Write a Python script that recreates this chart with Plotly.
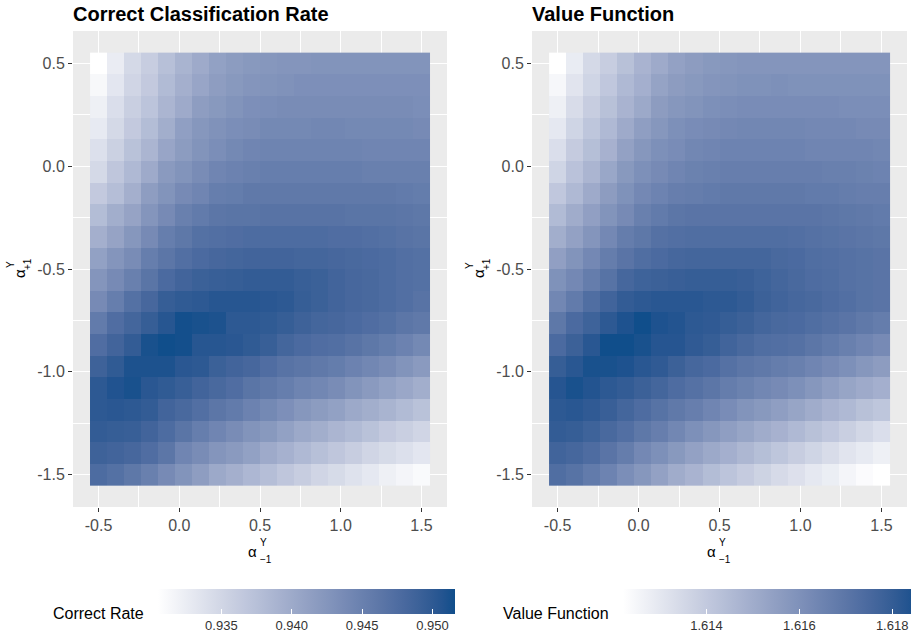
import plotly.graph_objects as go

# ---------------- data ----------------
alpha_minus = [-0.5, -0.3947, -0.2895, -0.1842, -0.0789, 0.0263, 0.1316, 0.2368, 0.3421, 0.4474,
               0.5526, 0.6579, 0.7632, 0.8684, 0.9737, 1.0789, 1.1842, 1.2895, 1.3947, 1.5]
alpha_plus = [0.5, 0.3947, 0.2895, 0.1842, 0.0789, -0.0263, -0.1316, -0.2368, -0.3421, -0.4474,
              -0.5526, -0.6579, -0.7632, -0.8684, -0.9737, -1.0789, -1.1842, -1.2895, -1.3947, -1.5]

# rows: alpha_plus from 0.5 (top) down to -1.5 ; columns: alpha_minus -0.5 .. 1.5
correct_rate = [
    [0.9305, 0.9326, 0.9347, 0.9360, 0.9375, 0.9389, 0.9400, 0.9411, 0.9417, 0.9421, 0.9423, 0.9425, 0.9425, 0.9427, 0.9427, 0.9427, 0.9427, 0.9427, 0.9427, 0.9427],
    [0.9313, 0.9332, 0.9351, 0.9364, 0.9381, 0.9394, 0.9406, 0.9415, 0.9421, 0.9425, 0.9427, 0.9429, 0.9432, 0.9432, 0.9432, 0.9432, 0.9432, 0.9432, 0.9432, 0.9432],
    [0.9322, 0.9341, 0.9358, 0.9370, 0.9387, 0.9400, 0.9415, 0.9421, 0.9427, 0.9432, 0.9434, 0.9436, 0.9436, 0.9436, 0.9436, 0.9436, 0.9436, 0.9436, 0.9436, 0.9434],
    [0.9328, 0.9347, 0.9364, 0.9379, 0.9396, 0.9413, 0.9423, 0.9429, 0.9434, 0.9436, 0.9440, 0.9440, 0.9440, 0.9442, 0.9442, 0.9440, 0.9440, 0.9440, 0.9440, 0.9438],
    [0.9339, 0.9356, 0.9373, 0.9387, 0.9406, 0.9417, 0.9427, 0.9434, 0.9440, 0.9444, 0.9446, 0.9446, 0.9446, 0.9446, 0.9446, 0.9446, 0.9444, 0.9444, 0.9444, 0.9444],
    [0.9347, 0.9368, 0.9383, 0.9400, 0.9419, 0.9427, 0.9436, 0.9444, 0.9448, 0.9451, 0.9453, 0.9453, 0.9453, 0.9453, 0.9453, 0.9453, 0.9451, 0.9451, 0.9451, 0.9451],
    [0.9364, 0.9377, 0.9394, 0.9415, 0.9427, 0.9438, 0.9444, 0.9453, 0.9455, 0.9459, 0.9459, 0.9459, 0.9459, 0.9459, 0.9459, 0.9459, 0.9459, 0.9459, 0.9457, 0.9455],
    [0.9379, 0.9396, 0.9408, 0.9425, 0.9438, 0.9451, 0.9457, 0.9463, 0.9465, 0.9465, 0.9467, 0.9467, 0.9467, 0.9467, 0.9467, 0.9465, 0.9465, 0.9465, 0.9463, 0.9461],
    [0.9394, 0.9408, 0.9423, 0.9438, 0.9453, 0.9461, 0.9470, 0.9472, 0.9474, 0.9476, 0.9476, 0.9476, 0.9476, 0.9476, 0.9474, 0.9474, 0.9472, 0.9470, 0.9467, 0.9465],
    [0.9411, 0.9425, 0.9436, 0.9453, 0.9463, 0.9472, 0.9478, 0.9482, 0.9484, 0.9486, 0.9486, 0.9486, 0.9484, 0.9484, 0.9482, 0.9480, 0.9478, 0.9476, 0.9472, 0.9470],
    [0.9425, 0.9438, 0.9451, 0.9465, 0.9478, 0.9486, 0.9491, 0.9493, 0.9495, 0.9497, 0.9497, 0.9497, 0.9493, 0.9491, 0.9486, 0.9482, 0.9480, 0.9476, 0.9472, 0.9470],
    [0.9438, 0.9453, 0.9470, 0.9482, 0.9495, 0.9499, 0.9501, 0.9505, 0.9505, 0.9505, 0.9503, 0.9501, 0.9495, 0.9491, 0.9486, 0.9482, 0.9480, 0.9476, 0.9472, 0.9467],
    [0.9457, 0.9474, 0.9484, 0.9495, 0.9505, 0.9514, 0.9512, 0.9510, 0.9501, 0.9501, 0.9499, 0.9495, 0.9489, 0.9484, 0.9482, 0.9478, 0.9474, 0.9470, 0.9463, 0.9459],
    [0.9474, 0.9486, 0.9497, 0.9512, 0.9516, 0.9514, 0.9505, 0.9505, 0.9503, 0.9499, 0.9493, 0.9484, 0.9478, 0.9474, 0.9472, 0.9467, 0.9461, 0.9455, 0.9448, 0.9440],
    [0.9489, 0.9499, 0.9510, 0.9510, 0.9510, 0.9503, 0.9501, 0.9491, 0.9486, 0.9482, 0.9474, 0.9467, 0.9463, 0.9459, 0.9455, 0.9448, 0.9442, 0.9436, 0.9427, 0.9419],
    [0.9501, 0.9508, 0.9512, 0.9503, 0.9499, 0.9493, 0.9486, 0.9480, 0.9474, 0.9465, 0.9459, 0.9453, 0.9446, 0.9442, 0.9436, 0.9427, 0.9419, 0.9411, 0.9404, 0.9396],
    [0.9501, 0.9503, 0.9501, 0.9497, 0.9486, 0.9480, 0.9472, 0.9463, 0.9457, 0.9448, 0.9440, 0.9432, 0.9423, 0.9417, 0.9411, 0.9402, 0.9396, 0.9389, 0.9381, 0.9373],
    [0.9497, 0.9495, 0.9493, 0.9486, 0.9476, 0.9465, 0.9453, 0.9444, 0.9436, 0.9427, 0.9421, 0.9411, 0.9402, 0.9396, 0.9387, 0.9381, 0.9373, 0.9364, 0.9358, 0.9351],
    [0.9489, 0.9486, 0.9482, 0.9474, 0.9463, 0.9444, 0.9436, 0.9425, 0.9419, 0.9411, 0.9400, 0.9392, 0.9383, 0.9375, 0.9368, 0.9360, 0.9351, 0.9345, 0.9339, 0.9332],
    [0.9476, 0.9470, 0.9461, 0.9451, 0.9438, 0.9427, 0.9415, 0.9402, 0.9394, 0.9385, 0.9377, 0.9368, 0.9360, 0.9351, 0.9345, 0.9337, 0.9330, 0.9322, 0.9316, 0.9311],
]

value_function = [
    [1.61220, 1.61284, 1.61348, 1.61386, 1.61431, 1.61476, 1.61508, 1.61540, 1.61559, 1.61572, 1.61578, 1.61585, 1.61585, 1.61585, 1.61585, 1.61585, 1.61585, 1.61585, 1.61585, 1.61585],
    [1.61246, 1.61310, 1.61361, 1.61406, 1.61457, 1.61489, 1.61534, 1.61559, 1.61572, 1.61585, 1.61591, 1.61598, 1.61598, 1.61604, 1.61598, 1.61598, 1.61598, 1.61598, 1.61598, 1.61598],
    [1.61271, 1.61335, 1.61386, 1.61431, 1.61476, 1.61514, 1.61559, 1.61578, 1.61591, 1.61604, 1.61610, 1.61617, 1.61617, 1.61617, 1.61617, 1.61617, 1.61617, 1.61610, 1.61610, 1.61610],
    [1.61297, 1.61361, 1.61412, 1.61457, 1.61508, 1.61553, 1.61578, 1.61604, 1.61617, 1.61623, 1.61630, 1.61636, 1.61636, 1.61636, 1.61636, 1.61630, 1.61630, 1.61630, 1.61623, 1.61623],
    [1.61329, 1.61393, 1.61438, 1.61482, 1.61540, 1.61578, 1.61604, 1.61617, 1.61636, 1.61642, 1.61649, 1.61649, 1.61649, 1.61649, 1.61649, 1.61642, 1.61642, 1.61642, 1.61642, 1.61636],
    [1.61361, 1.61425, 1.61470, 1.61521, 1.61572, 1.61604, 1.61623, 1.61642, 1.61655, 1.61662, 1.61668, 1.61668, 1.61668, 1.61668, 1.61668, 1.61668, 1.61662, 1.61662, 1.61655, 1.61649],
    [1.61406, 1.61457, 1.61508, 1.61559, 1.61598, 1.61630, 1.61649, 1.61668, 1.61674, 1.61681, 1.61687, 1.61687, 1.61687, 1.61687, 1.61687, 1.61681, 1.61681, 1.61674, 1.61668, 1.61668],
    [1.61450, 1.61502, 1.61546, 1.61591, 1.61623, 1.61662, 1.61681, 1.61700, 1.61706, 1.61706, 1.61706, 1.61706, 1.61706, 1.61706, 1.61706, 1.61706, 1.61700, 1.61694, 1.61687, 1.61681],
    [1.61495, 1.61540, 1.61585, 1.61630, 1.61674, 1.61694, 1.61719, 1.61726, 1.61732, 1.61732, 1.61732, 1.61732, 1.61732, 1.61732, 1.61726, 1.61719, 1.61713, 1.61706, 1.61700, 1.61694],
    [1.61546, 1.61591, 1.61630, 1.61674, 1.61706, 1.61732, 1.61745, 1.61758, 1.61764, 1.61764, 1.61764, 1.61764, 1.61764, 1.61751, 1.61745, 1.61732, 1.61726, 1.61719, 1.61713, 1.61706],
    [1.61598, 1.61630, 1.61674, 1.61713, 1.61758, 1.61777, 1.61783, 1.61790, 1.61796, 1.61796, 1.61796, 1.61790, 1.61777, 1.61764, 1.61751, 1.61738, 1.61732, 1.61719, 1.61713, 1.61706],
    [1.61636, 1.61681, 1.61732, 1.61770, 1.61802, 1.61815, 1.61822, 1.61822, 1.61822, 1.61815, 1.61815, 1.61802, 1.61783, 1.61770, 1.61758, 1.61751, 1.61738, 1.61726, 1.61713, 1.61706],
    [1.61694, 1.61745, 1.61777, 1.61815, 1.61841, 1.61860, 1.61841, 1.61834, 1.61815, 1.61809, 1.61796, 1.61783, 1.61764, 1.61751, 1.61745, 1.61732, 1.61719, 1.61706, 1.61687, 1.61674],
    [1.61745, 1.61783, 1.61822, 1.61860, 1.61860, 1.61847, 1.61828, 1.61828, 1.61809, 1.61796, 1.61770, 1.61751, 1.61732, 1.61726, 1.61719, 1.61700, 1.61681, 1.61662, 1.61642, 1.61623],
    [1.61796, 1.61822, 1.61847, 1.61847, 1.61841, 1.61822, 1.61809, 1.61783, 1.61758, 1.61745, 1.61719, 1.61700, 1.61687, 1.61674, 1.61662, 1.61642, 1.61623, 1.61604, 1.61578, 1.61559],
    [1.61828, 1.61847, 1.61834, 1.61815, 1.61802, 1.61783, 1.61764, 1.61738, 1.61719, 1.61700, 1.61674, 1.61655, 1.61636, 1.61623, 1.61604, 1.61578, 1.61553, 1.61527, 1.61508, 1.61489],
    [1.61815, 1.61822, 1.61809, 1.61790, 1.61764, 1.61738, 1.61713, 1.61687, 1.61668, 1.61642, 1.61617, 1.61591, 1.61572, 1.61553, 1.61527, 1.61502, 1.61476, 1.61457, 1.61431, 1.61412],
    [1.61802, 1.61796, 1.61777, 1.61751, 1.61726, 1.61694, 1.61668, 1.61636, 1.61604, 1.61578, 1.61553, 1.61527, 1.61502, 1.61482, 1.61457, 1.61431, 1.61406, 1.61380, 1.61354, 1.61329],
    [1.61770, 1.61758, 1.61738, 1.61706, 1.61674, 1.61630, 1.61604, 1.61572, 1.61540, 1.61514, 1.61489, 1.61463, 1.61438, 1.61412, 1.61386, 1.61361, 1.61335, 1.61310, 1.61290, 1.61271],
    [1.61732, 1.61713, 1.61681, 1.61649, 1.61610, 1.61578, 1.61540, 1.61502, 1.61476, 1.61444, 1.61418, 1.61393, 1.61367, 1.61342, 1.61322, 1.61297, 1.61278, 1.61252, 1.61233, 1.61220],
]

axis_ticks = [-1.5, -1.0, -0.5, 0.0, 0.5, 1.0, 1.5]
axis_ticktext = ["-1.5", "-1.0", "-0.5", "0.0", "0.5", "1.0", "1.5"]
cr_ticks = [0.935, 0.940, 0.945, 0.950]
cr_ticktext = ["0.935", "0.940", "0.945", "0.950"]
vf_ticks = [1.614, 1.616, 1.618]
vf_ticktext = ["1.614", "1.616", "1.618"]

# ---------------- colour scale: white -> dodgerblue4, interpolated in CIELAB ----------------
def _lin(c):
    c = c / 255.0
    return c / 12.92 if c <= 0.04045 else ((c + 0.055) / 1.055) ** 2.4

def _gam(c):
    c = 12.92 * c if c <= 0.0031308 else 1.055 * c ** (1 / 2.4) - 0.055
    return max(0, min(255, round(c * 255)))

WN = (0.95047, 1.0, 1.08883)

def rgb2lab(rgb):
    r, g, b = [_lin(v) for v in rgb]
    X = 0.4124564 * r + 0.3575761 * g + 0.1804375 * b
    Y = 0.2126729 * r + 0.7151522 * g + 0.0721750 * b
    Z = 0.0193339 * r + 0.1191920 * g + 0.9503041 * b
    def f(t):
        return t ** (1 / 3) if t > 0.008856 else 7.787 * t + 16 / 116
    fx, fy, fz = f(X / WN[0]), f(Y / WN[1]), f(Z / WN[2])
    return (116 * fy - 16, 500 * (fx - fy), 200 * (fy - fz))

def lab2rgb(lab):
    L, a, b = lab
    fy = (L + 16) / 116
    fx = fy + a / 500
    fz = fy - b / 200
    def finv(t):
        return t ** 3 if t ** 3 > 0.008856 else (t - 16 / 116) / 7.787
    X, Y, Z = finv(fx) * WN[0], finv(fy) * WN[1], finv(fz) * WN[2]
    r = 3.2404542 * X - 1.5371385 * Y - 0.4985314 * Z
    g = -0.9692660 * X + 1.8760108 * Y + 0.0415560 * Z
    bb = 0.0556434 * X - 0.2040259 * Y + 1.0572252 * Z
    return "rgb(%d,%d,%d)" % (_gam(r), _gam(g), _gam(bb))

lo, hi = rgb2lab((255, 255, 255)), rgb2lab((16, 78, 139))
NS = 24
colorscale = []
for i in range(NS + 1):
    s = i / NS
    colorscale.append([s, lab2rgb(tuple(lo[k] + s * (hi[k] - lo[k]) for k in range(3)))])

# ---------------- figure ----------------
W, H = 911, 637
FONT = "Arial, Liberation Sans, sans-serif"

def px_x(p):
    return p / W

def px_y(p):
    return 1 - p / H

def flat_min(m):
    return min(min(r) for r in m)

def flat_max(m):
    return max(max(r) for r in m)

fig = go.Figure()

fig.add_trace(go.Heatmap(
    x=alpha_minus, y=alpha_plus, z=correct_rate,
    zmin=flat_min(correct_rate), zmax=flat_max(correct_rate),
    colorscale=colorscale, xaxis="x", yaxis="y",
    colorbar=dict(
        orientation="h", x=px_x(158), xanchor="left", y=px_y(589), yanchor="top",
        lenmode="pixels", len=297, thickness=25, xpad=0, ypad=0, outlinewidth=0,
        ticks="inside", ticklen=5, tickcolor="white", tickwidth=1,
        tickvals=cr_ticks, ticktext=cr_ticktext,
        tickfont=dict(family=FONT, size=13, color="#333333"),
    ),
))

fig.add_trace(go.Heatmap(
    x=alpha_minus, y=alpha_plus, z=value_function,
    zmin=flat_min(value_function), zmax=flat_max(value_function),
    colorscale=colorscale, xaxis="x2", yaxis="y2",
    colorbar=dict(
        orientation="h", x=px_x(623), xanchor="left", y=px_y(589), yanchor="top",
        lenmode="pixels", len=297, thickness=25, xpad=0, ypad=0, outlinewidth=0,
        ticks="inside", ticklen=5, tickcolor="white", tickwidth=1,
        tickvals=vf_ticks, ticktext=vf_ticktext,
        tickfont=dict(family=FONT, size=13, color="#333333"),
    ),
))

common = dict(
    tickvals=axis_ticks, ticktext=axis_ticktext,
    showgrid=True, gridcolor="white", gridwidth=1.1,
    minor=dict(tickvals=[-1.25, -0.75, -0.25, 0.25, 0.75, 1.25], showgrid=True,
               gridcolor="white", gridwidth=0.55, ticks=""),
    zeroline=False, showline=False,
    ticks="outside", ticklen=4, tickwidth=1, tickcolor="#333333",
    tickfont=dict(family=FONT, size=16, color="#4D4D4D"),
    range=[-0.658, 1.658],
)
ydom = [px_y(507), px_y(31)]
fig.update_layout(
    xaxis=dict(common, domain=[px_x(73), px_x(447)], anchor="y"),
    yaxis=dict(common, domain=ydom, anchor="x", range=[-1.658, 0.658]),
    xaxis2=dict(common, domain=[px_x(532), px_x(907)], anchor="y2"),
    yaxis2=dict(common, domain=ydom, anchor="x2", range=[-1.658, 0.658]),
)

fig.update_layout(
    width=W, height=H,
    margin=dict(l=0, r=0, t=0, b=0, autoexpand=False),
    paper_bgcolor="white", plot_bgcolor="#EBEBEB",
    font=dict(family=FONT, color="black"),
    showlegend=False,
)

ann = []

def note(text, x, y, xa="center", ya="middle", size=16, weight=False, angle=0):
    ann.append(dict(text=("<b>%s</b>" % text) if weight else text,
                    x=px_x(x), y=px_y(y), xref="paper", yref="paper",
                    xanchor=xa, yanchor=ya, textangle=angle, showarrow=False,
                    font=dict(family=FONT, size=size, color="black")))

# panel titles
note("Correct Classification Rate", 71, 14, xa="left", size=20, weight=True)
note("Value Function", 530, 14, xa="left", size=20, weight=True)
# legend titles
note("Correct Rate", 146, 613, xa="right", size=16)
note("Value Function", 611, 613, xa="right", size=16)
# axis titles (alpha with stacked super/subscripts)
for dx in [0, 459]:
    note("α", 252 + dx, 551, size=15)
    note("Y", 258 + dx, 542, xa="left", size=10)
    note("−1", 258 + dx, 559, xa="left", size=10)
    note("α", 20 + dx, 274, size=15, angle=-90)
    note("Y", 11 + dx, 265, size=10, angle=-90)
    note("+1", 27 + dx, 264, size=10, angle=-90)
fig.update_layout(annotations=ann)

fig.write_html("out.html", config={"displayModeBar": False},
               post_script="document.body.style.margin='0';document.body.style.overflow='hidden';")
